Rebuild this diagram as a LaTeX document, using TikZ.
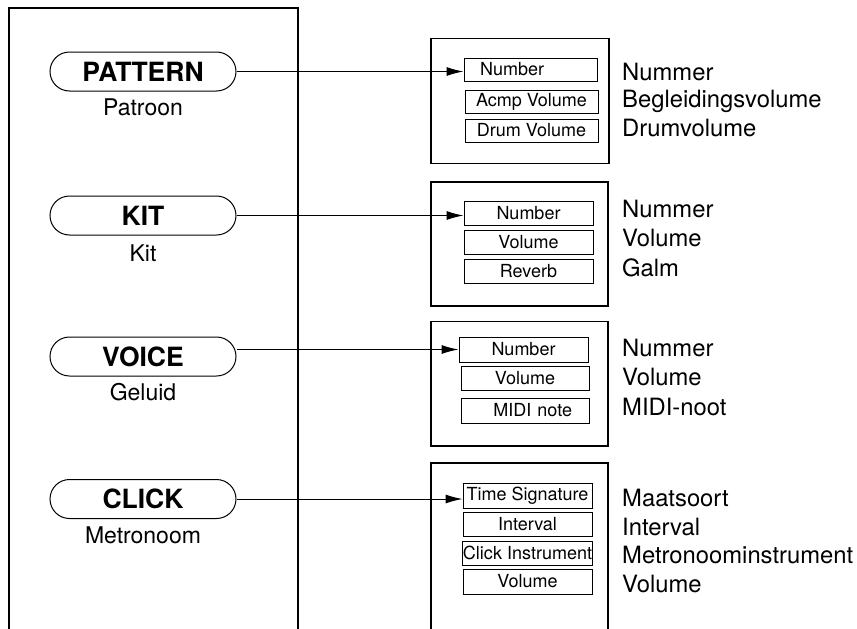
\documentclass[tikz,border=0pt]{standalone}
\usepackage{fontspec}
\setmainfont{TeX Gyre Heros}
\usetikzlibrary{arrows.meta,positioning,shapes.misc}

\begin{document}
\begin{tikzpicture}[x=1pt, y=-1pt,
  btn/.style={rounded rectangle, draw, line width=1pt, minimum width=186pt, minimum height=39pt, inner sep=0pt, font=\fontsize{26.5}{30}\selectfont\bfseries},
  sub/.style={inner sep=0pt, font=\fontsize{23}{27}\selectfont},
  frame/.style={rectangle, draw, line width=1.4pt, inner sep=0pt},
  field/.style={rectangle, draw, line width=1pt, minimum width=129pt, minimum height=24pt, inner sep=0pt, font=\fontsize{18}{21}\selectfont},
  desc/.style={anchor=base west, inner sep=0pt, font=\fontsize{23.8}{28}\selectfont},
  link/.style={-{Latex[length=17pt,width=9pt]}, line width=1pt}]

\useasboundingbox (0,0) rectangle (857,629);

%Left panel
\draw[line width=1.4pt] (9,629) -- (9,8) -- (298,8) -- (298,629);

%Buttons
\node[btn] (pat) at (143,71.5)  {PATTERN};
\node[btn] (kit) at (143,215.5) {KIT};
\node[btn] (voi) at (143,356.5) {VOICE};
\node[btn] (clk) at (143,499)   {CLICK};

\node[sub] (patsub) [below=7.5pt of pat] {Patroon};
\node[sub] (kitsub) [below=9pt of kit]   {Kit};
\node[sub] (voisub) [below=7pt of voi]   {Geluid};
\node[sub] (clksub) [below=7.5pt of clk] {Metronoom};

%Frames
\node[frame, minimum width=178pt, minimum height=125pt] (patbox) at (520,100.7) {};
\node[frame, minimum width=177pt, minimum height=124pt] (kitbox) at (519.5,244) {};
\node[frame, minimum width=177pt, minimum height=124.5pt] (voibox) at (519.5,383.7) {};
\draw[line width=1.4pt] (431,629) -- (431,463) -- (608,463) -- (608,629);

%Fields
\node[field, minimum width=133pt, minimum height=23pt, text width=101pt, align=left, inner xsep=16pt] (patnum) at (530.5,69.5) {Number};
\node[field, minimum width=133pt, minimum height=23pt] (patacmp) [below=8pt of patnum.south east, anchor=north east, xshift=1pt] {Acmp Volume};
\node[field, minimum width=133pt, minimum height=23pt] (patdrum) [below=5pt of patacmp] {Drum Volume};

\node[field] (kitnum) at (528.5,213)    {Number};
\node[field] (kitvol) [below=4pt of kitnum] {Volume};
\node[field] (kitrev) [below=4pt of kitvol] {Reverb};

\node[field, minimum height=25pt] (voinum) at (523.5,349.5) {Number};
\node[field, minimum width=128pt] (voivol) at (525,378) {Volume};
\node[field, minimum width=128pt, minimum height=25pt, text width=94pt, align=right, inner xsep=17pt] (voimidi) [below=7pt of voivol] {MIDI note};

\node[field, minimum height=25pt] (clksig) at (527.5,495.5) {Time Signature};
\node[field] (clkint) [below=3pt of clksig] {Interval};
\node[field] (clkins) [below=4pt of clkint] {Click Instrument};
\node[field, minimum height=25pt] (clkvol) [below=3pt of clkins] {Volume};

%Lines
\draw[link] (pat.east) -- (pat.east -| patnum.west);
\draw[link] (kit.east) -- (kit.east -| kitnum.west);
\draw[link] (voinum.west -| voi.east) -- (voinum.west);
\draw[link] (clk.east) -- (clk.east -| clksig.west);

%Descriptions
\foreach \yy/\txt [count=\i] in {80/Nummer, 107/Begleidingsvolume, 136.7/Drumvolume}
  \node[desc] (patd\i) at (622,\yy) {\txt};
\foreach \yy/\txt [count=\i] in {217.3/Nummer, 246.7/Volume, 276.7/Galm}
  \node[desc] (kitd\i) at (622,\yy) {\txt};
\foreach \yy/\txt [count=\i] in {356.7/Nummer, 385.5/Volume, 415/MIDI-noot}
  \node[desc] (void\i) at (622,\yy) {\txt};
\foreach \yy/\txt [count=\i] in {506.7/Maatsoort, 535/Interval, 563/Metronoominstrument, 592.7/Volume}
  \node[desc] (clkd\i) at (622,\yy) {\txt};

\end{tikzpicture}
\end{document}
